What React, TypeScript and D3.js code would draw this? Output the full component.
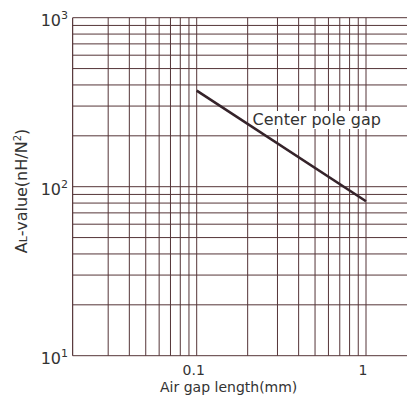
import React, { useEffect, useRef } from 'react';
import * as d3 from 'd3';

// air gap length (mm) vs AL value (nH/N^2)
const gapValues: number[] = [0.1, 1];
const alValues: number[] = [370, 82];
const curveLabel = "Center pole gap";

const xGrid: number[] = [0.03, 0.04, 0.05, 0.06, 0.07, 0.08, 0.09, 0.1, 0.2, 0.3, 0.4, 0.5, 0.6, 0.7, 0.8, 0.9, 1];
const yGrid: number[] = [10, 20, 30, 40, 50, 60, 70, 80, 90, 100, 200, 300, 400, 500, 600, 700, 800, 900, 1000];
const xTicks: number[] = [0.1, 1];
const xTickLabels: string[] = ["0.1", "1"];
const yTicks: number[] = [10, 100, 1000];
const yTickExp: string[] = ["1", "2", "3"];
const xMin = 0.0185;
const xMax = 2;

const W = 407;
const H = 400;
const gridColor = "#553538";
const textColor = "#333";
const font = "'DejaVu Sans', sans-serif";

export default function App() {
    const ref = useRef<SVGSVGElement>(null);

    useEffect(() => {
        const svg = d3.select(ref.current);
        svg.selectAll("*").remove();

        let x_scale = d3.scaleLog().domain([0.1, 1]).range([196.7, 366]);
        let y_scale = d3.scaleLog().domain([10, 1000]).range([355.7, 17.7]);
        const left = x_scale(xMin);
        const right = x_scale(xMax);

        svg.append("rect").attr("width", W).attr("height", H).attr("fill", "#fff");

        const g = svg.append("g");

        g.selectAll("line.h")
            .data(yGrid)
            .join("line")
            .attr("x1", left)
            .attr("x2", right)
            .attr("y1", d => y_scale(d))
            .attr("y2", d => y_scale(d))
            .attr("stroke", gridColor)
            .attr("stroke-width", 1);

        g.selectAll("line.v")
            .data(xGrid)
            .join("line")
            .attr("x1", d => x_scale(d))
            .attr("x2", d => x_scale(d))
            .attr("y1", y_scale(1000))
            .attr("y2", y_scale(10))
            .attr("stroke", gridColor)
            .attr("stroke-width", 1);

        // frame left edge
        g.append("line")
            .attr("x1", left).attr("x2", left)
            .attr("y1", y_scale(1000)).attr("y2", y_scale(10))
            .attr("stroke", gridColor).attr("stroke-width", 1.2);

        // label box + label
        const label = g.append("text")
            .attr("x", 252.5)
            .attr("y", 125)
            .attr("font-family", font)
            .attr("font-size", 16)
            .attr("fill", textColor)
            .text(curveLabel);
        const bb = (label.node() as SVGTextElement).getBBox();
        g.insert("rect", "text")
            .attr("x", bb.x - 3)
            .attr("y", bb.y + 1)
            .attr("width", bb.width + 5)
            .attr("height", bb.height - 1)
            .attr("fill", "#fff");

        const pts = gapValues.map((v, i) => [x_scale(v), y_scale(alValues[i])] as [number, number]);
        g.append("path")
            .attr("d", d3.line()(pts))
            .attr("fill", "none")
            .attr("stroke", "#35232a")
            .attr("stroke-width", 2.6);

        // x tick labels
        svg.selectAll("text.xt")
            .data(xTicks)
            .join("text")
            .attr("x", d => x_scale(d) - 3)
            .attr("y", 375)
            .attr("text-anchor", "middle")
            .attr("font-family", font)
            .attr("font-size", 14)
            .attr("fill", textColor)
            .text((d, i) => xTickLabels[i]);

        // y tick labels 10^n
        const yt = svg.selectAll("text.yt")
            .data(yTicks)
            .join("text")
            .attr("x", 68)
            .attr("y", d => y_scale(d) + 8)
            .attr("text-anchor", "end")
            .attr("font-family", font)
            .attr("font-size", 16)
            .attr("fill", textColor);
        yt.append("tspan").text("10");
        yt.append("tspan")
            .attr("font-size", 11)
            .attr("dy", -7)
            .text((d, i) => yTickExp[i]);

        svg.append("text")
            .attr("x", 228.7)
            .attr("y", 392)
            .attr("text-anchor", "middle")
            .attr("font-family", font)
            .attr("font-size", 14)
            .attr("fill", textColor)
            .text("Air gap length(mm)");

        const yt2 = svg.append("text")
            .attr("transform", "translate(26.5,191) rotate(-90)")
            .attr("text-anchor", "middle")
            .attr("font-family", font)
            .attr("font-size", 16)
            .attr("fill", textColor);
        yt2.append("tspan").text("A");
        yt2.append("tspan").attr("font-size", 11).text("L");
        yt2.append("tspan").text("-value(nH/N");
        yt2.append("tspan").attr("font-size", 10).attr("dy", -6).text("2");
        yt2.append("tspan").attr("dy", 6).text(")");
    }, []);

    return (
        <div style={{ position: "fixed", left: 0, top: 0 }}>
            <svg ref={ref} width={W} height={H} style={{ display: "block" }} />
        </div>
    );
}
